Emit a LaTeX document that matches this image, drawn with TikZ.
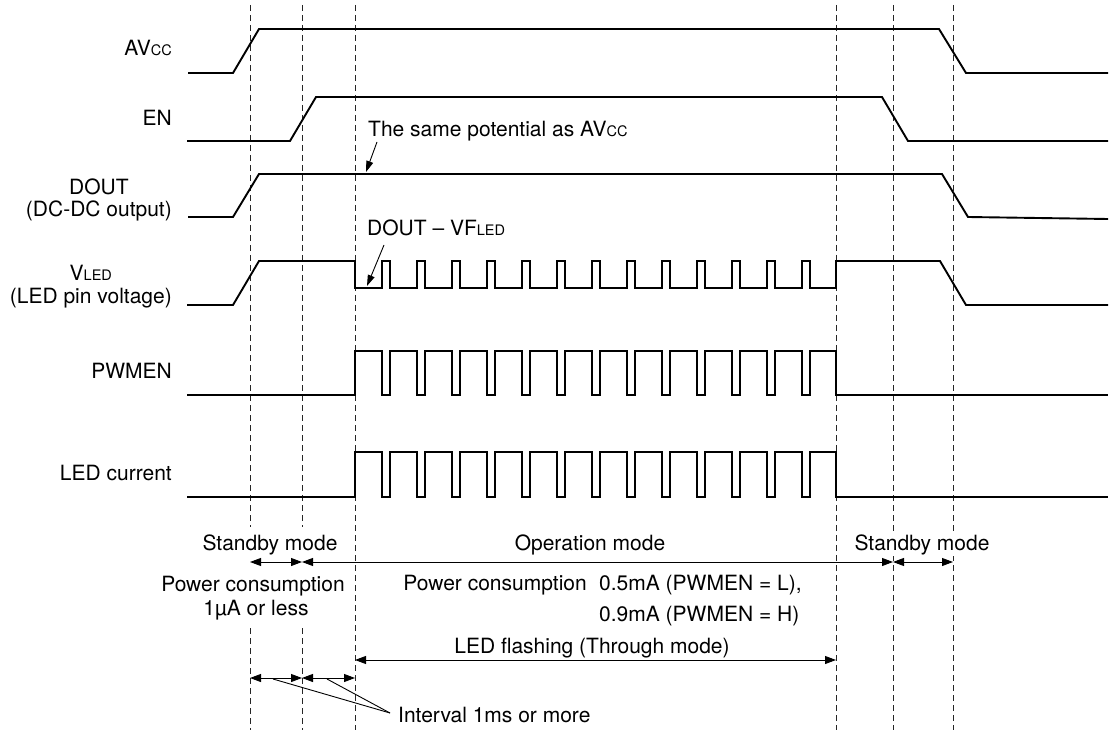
\documentclass[tikz,border=0pt]{standalone}
\usepackage{fontspec}
\setmainfont{TeX Gyre Heros}
\usetikzlibrary{arrows.meta}
\newcommand\smc[1]{{\fontsize{14.5}{14.5}\selectfont #1}}
\begin{document}
\begin{tikzpicture}[x=1pt,y=-1pt,
  wave/.style={line width=1.9pt, line join=miter},
  guide/.style={line width=0.9pt, dash pattern=on 6pt off 4pt, black!85},
  dim/.style={line width=0.9pt, {Triangle[length=11pt,width=8pt]}-{Triangle[length=11pt,width=8pt]}},
  lead/.style={line width=0.9pt},
  ptr/.style={line width=0.9pt, -{Triangle[length=11pt,width=7pt]}},
  lbl/.style={font=\fontsize{21}{24}\selectfont, inner sep=0pt},
  wlbl/.style={lbl, fill=white, inner sep=1.5pt}
]
\useasboundingbox (0,0) rectangle (1109,730);

% guide lines
\foreach \x in {250,302} {
  \draw[guide] (\x,5) -- (\x,527);
  \draw[guide] (\x,628) -- (\x,730);
}
\foreach \x in {355,836,893,953} \draw[guide] (\x,5) -- (\x,730);

% waveforms
\draw[wave] (188,73) -- (233,73) -- (259,29) -- (939,29) -- (966,73) -- (1108,73);
\draw[wave] (187,141) -- (290,141) -- (316,97) -- (882,97) -- (908,141) -- (1108,141);
\draw[wave] (188,217) -- (233,217) -- (259,174) -- (942,174) -- (968,217) -- (1108,219);
\draw[wave] (187,305) -- (233,305) -- (259,261) -- (355,261) -- (355,288)
  \foreach \k in {0,...,12} { -- ({382+35*\k},288) -- ({382+35*\k},261) -- ({390+35*\k},261) -- ({390+35*\k},288) }
  -- (836,288) -- (836,261) -- (940,261) -- (966,305) -- (1108,305);
\draw[wave] (187,395) -- (355,395) -- (355,351)
  \foreach \k in {0,...,12} { -- ({382+35*\k},351) -- ({382+35*\k},395) -- ({390+35*\k},395) -- ({390+35*\k},351) }
  -- (836,351) -- (836,395) -- (1108,395);
\draw[wave] (187,497) -- (355,497) -- (355,452)
  \foreach \k in {0,...,12} { -- ({382+35*\k},452) -- ({382+35*\k},497) -- ({390+35*\k},497) -- ({390+35*\k},452) }
  -- (836,452) -- (836,497) -- (1108,497);

% signal labels
\node[lbl, anchor=base east] (lav) at (172,56) {AV\smc{CC}};
\node[lbl, anchor=base east] (len) at (172,126) {EN};
\node[lbl, anchor=base east] (ldout2) at (172,217) {(DC-DC output)};
\path (ldout2.base) ++(0,-22) node[lbl, anchor=base] (ldout) {DOUT};
\node[lbl, anchor=base east] (lvled2) at (172,303) {(LED pin voltage)};
\path (lvled2.base) ++(0,-22) node[lbl, anchor=base] (lvled) {V\smc{LED}};
\node[lbl, anchor=base east] (lpwm) at (172,378) {PWMEN};
\node[lbl, anchor=base east] (lcur) at (172,480) {LED current};

% annotations on waveforms
\node[lbl, anchor=base west] (tsame) at (368,137) {The same potential as AV\smc{CC}};
\coordinate (psame0) at (377,142);
\coordinate (psame1) at (366,172);
\draw[ptr] (psame0) -- (psame1);
\node[lbl, anchor=base west] (tvf) at (367,236) {DOUT -- VF\smc{LED}};
\coordinate (pvf0) at (384,245);
\coordinate (pvf1) at (367,286);
\draw[ptr] (pvf0) -- (pvf1);

% mode labels
\node[lbl, anchor=base] (sb1) at (270,550) {Standby mode};
\node[lbl, anchor=base] (op) at (590,550) {Operation mode};
\node[wlbl, anchor=base] (sb2) at (922,550) {Standby mode};

\coordinate (a1) at (250,562);
\coordinate (a2) at (302,562);
\coordinate (a3) at (893,562);
\coordinate (a4) at (953,562);
\draw[dim] (a1) -- (a2);
\draw[dim] (a2) -- (a3);
\draw[dim] (a3) -- (a4);

\node[lbl, anchor=base] (pc1) at (253,591) {Power consumption};
\node[lbl, anchor=base] (pc1b) at (256,615) {1µA or less};
\node[lbl, anchor=base east] (pc2) at (587,590) {Power consumption};
\node[lbl, anchor=north west, align=left, font=\fontsize{21}{30.5}\selectfont] (pc2b) at (599,575) {0.5mA (PWMEN = L),\\0.9mA (PWMEN = H)};

\node[lbl, anchor=base] (flash) at (592,653) {LED flashing (Through mode)};
\coordinate (f1) at (355,660);
\coordinate (f2) at (836,660);
\draw[dim] (f1) -- (f2);

\coordinate (i1) at (250,678);
\coordinate (i2) at (302,678);
\coordinate (i3) at (355,678);
\draw[dim] (i1) -- (i2);
\draw[dim] (i2) -- (i3);
\node[lbl, anchor=base west] (intv) at (398,722) {Interval 1ms or more};
\coordinate (lf) at (390,713);
\coordinate (lt1) at (273,679);
\coordinate (lt2) at (327,679);
\draw[lead] (lf) -- (lt1);
\draw[lead] (lf) -- (lt2);
\end{tikzpicture}
\end{document}
